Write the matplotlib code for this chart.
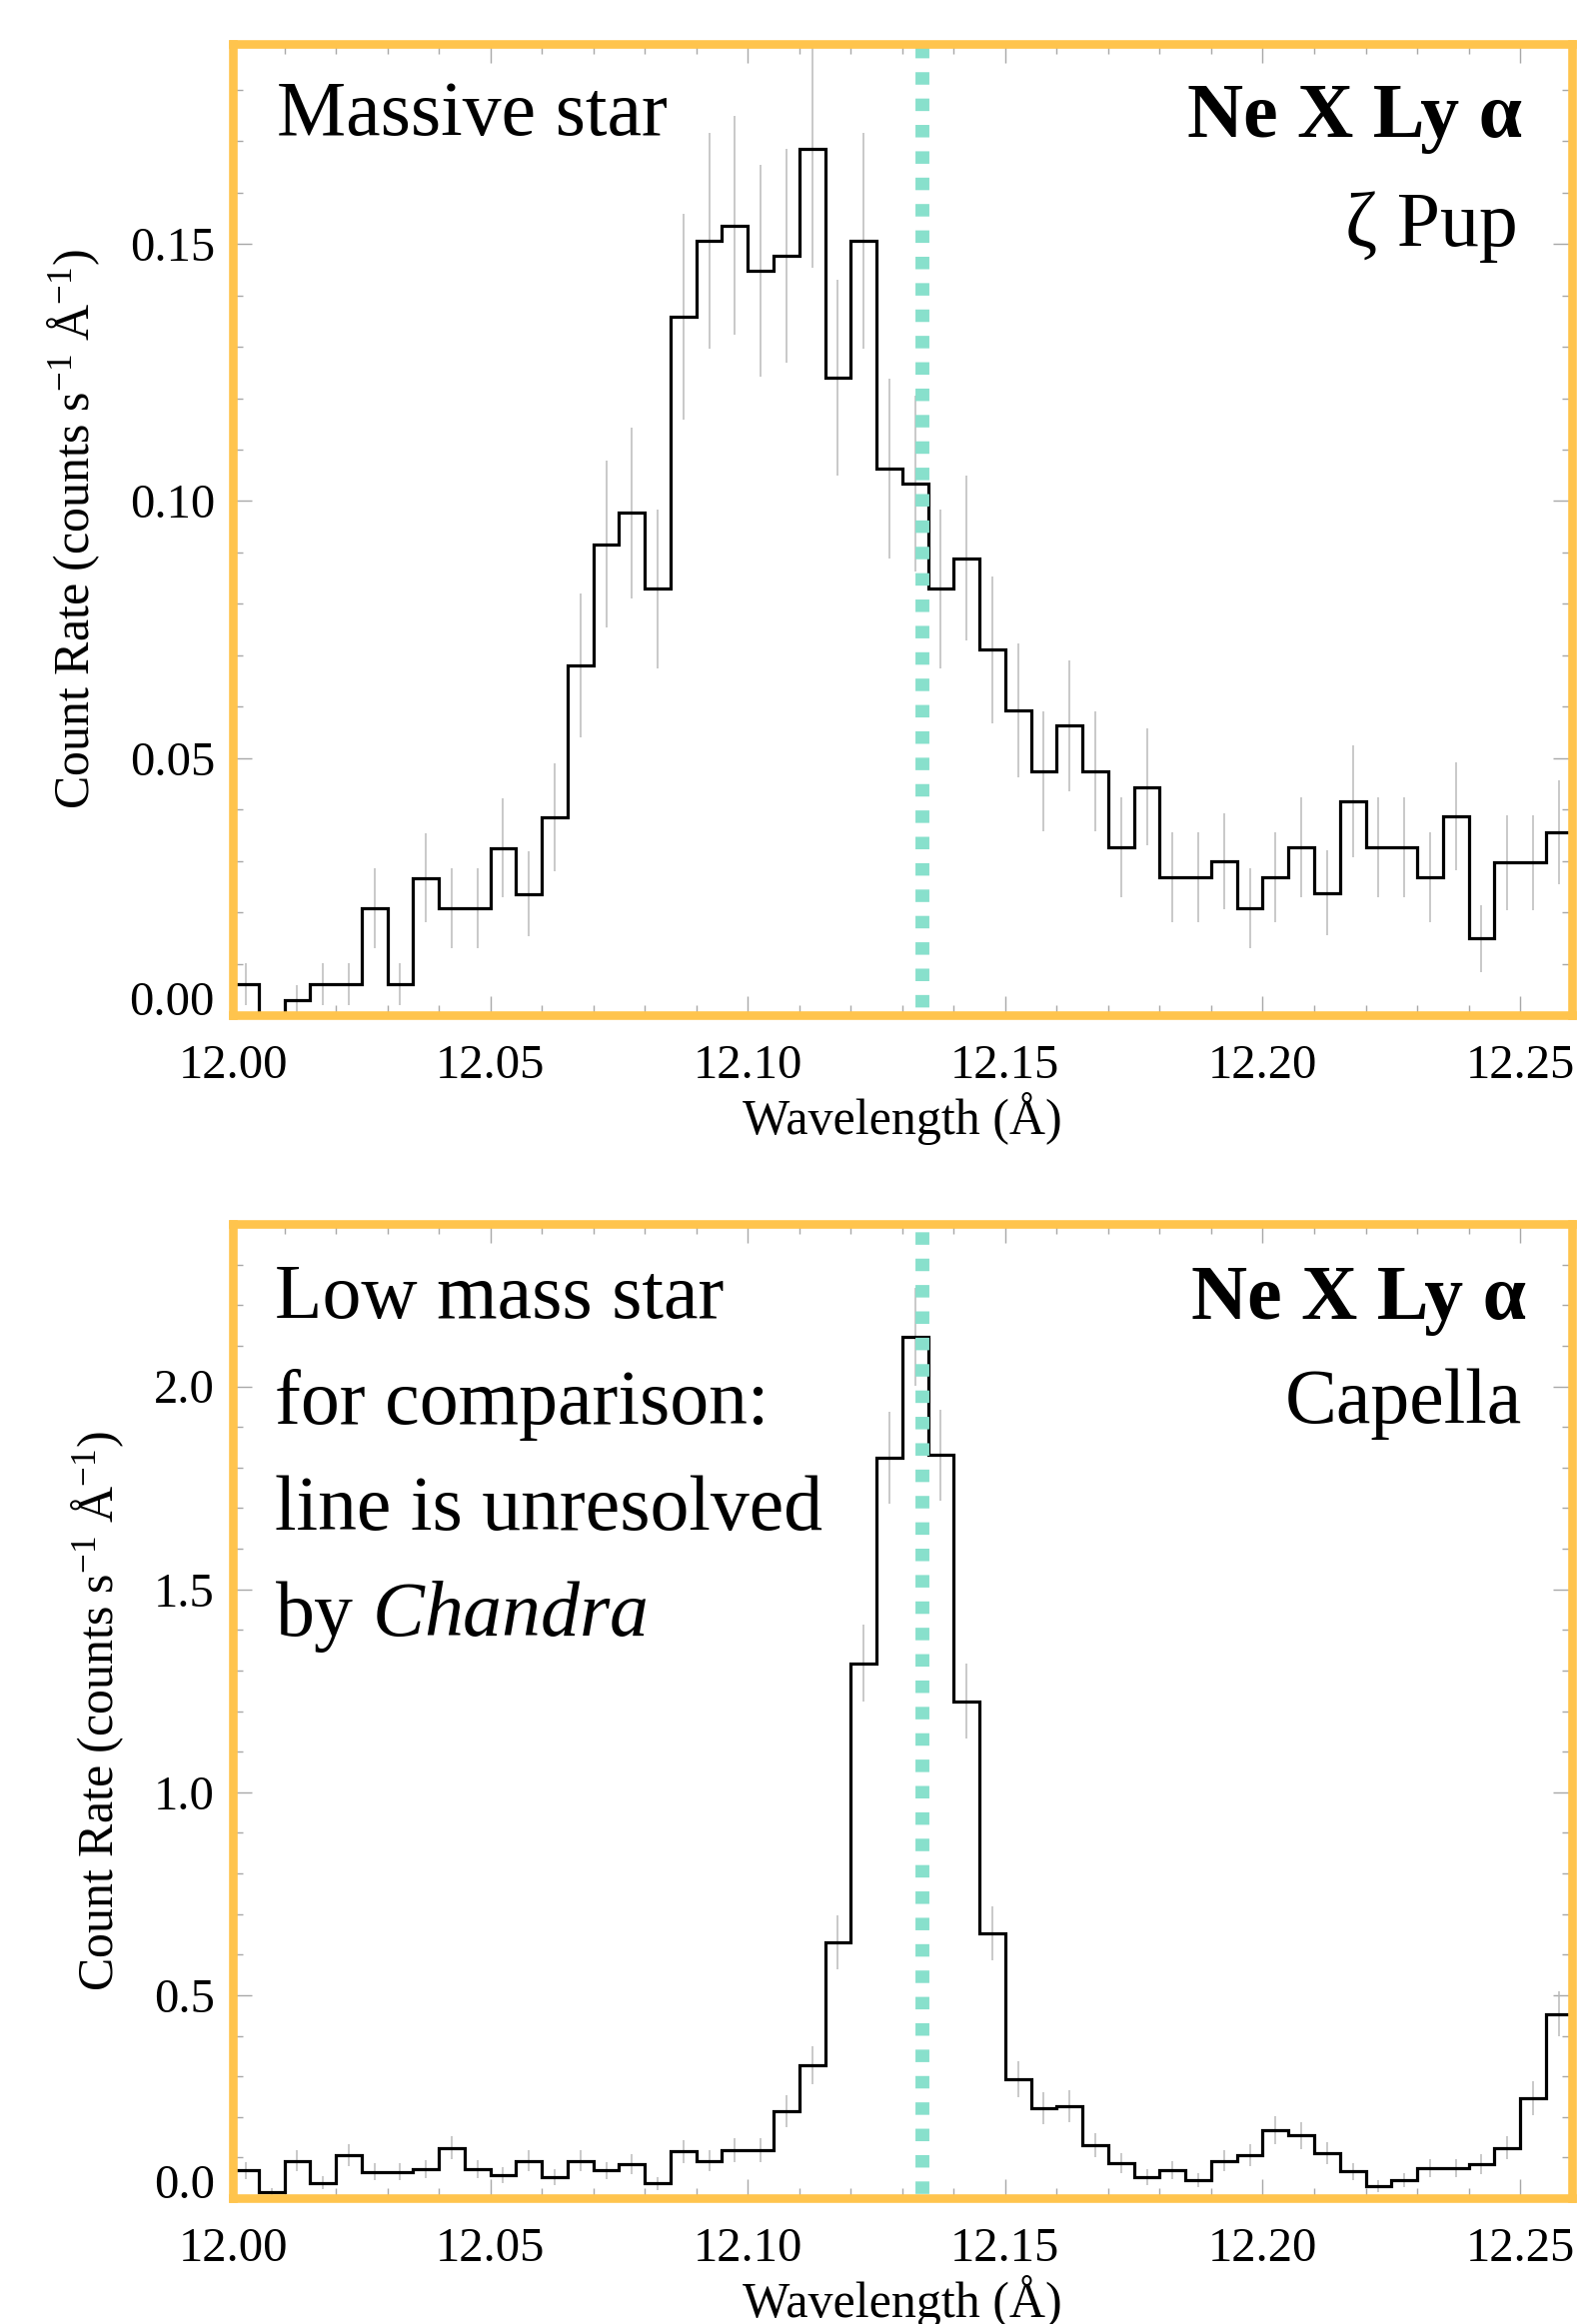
import numpy as np
import matplotlib
matplotlib.use("Agg")
import matplotlib.pyplot as plt
from matplotlib.ticker import MultipleLocator, FormatStrFormatter

plt.rcParams['font.family'] = ['Liberation Serif', 'DejaVu Serif']
plt.rcParams['mathtext.fontset'] = 'custom'
plt.rcParams['mathtext.rm'] = 'Liberation Serif'
plt.rcParams['mathtext.it'] = 'Liberation Serif:italic'
plt.rcParams['mathtext.bf'] = 'Liberation Serif:bold'

# ---------------- data ----------------
bin_start = 12.00
bin_width = 0.005
n_bins = 52
line_center = 12.134  # Ne X Ly alpha rest wavelength

zpup_rate = [0.006, 0.000, 0.003, 0.006, 0.006, 0.0208, 0.006, 0.0267, 0.0208, 0.0208,
             0.0325, 0.0236, 0.0385, 0.068, 0.0916, 0.0977, 0.0829, 0.1358, 0.1506, 0.1536,
             0.1447, 0.1477, 0.1684, 0.124, 0.1506, 0.1063, 0.1033, 0.0829, 0.0889, 0.0711,
             0.0593, 0.0474, 0.0563, 0.0474, 0.0326, 0.0444, 0.0268, 0.0268, 0.0299, 0.0208,
             0.0268, 0.0326, 0.0238, 0.0416, 0.0326, 0.0326, 0.0268, 0.0386, 0.0149, 0.0297,
             0.0297, 0.0356]
zpup_err = [0.0041, 0.0, 0.0029, 0.0041, 0.0041, 0.0077, 0.0041, 0.0087, 0.0077, 0.0077,
            0.0096, 0.0082, 0.0105, 0.0140, 0.0162, 0.0166, 0.0154, 0.0200, 0.0210, 0.0213,
            0.0206, 0.0207, 0.0230, 0.0191, 0.0210, 0.0175, 0.0171, 0.0154, 0.0160, 0.0143,
            0.0130, 0.0116, 0.0127, 0.0116, 0.0097, 0.0113, 0.0088, 0.0088, 0.0093, 0.0077,
            0.0088, 0.0097, 0.0083, 0.0109, 0.0097, 0.0097, 0.0088, 0.0105, 0.0065, 0.0092,
            0.0092, 0.0101]

capella_rate = [0.068, 0.014, 0.092, 0.038, 0.106, 0.065, 0.065, 0.072, 0.124, 0.072,
                0.057, 0.092, 0.052, 0.092, 0.068, 0.084, 0.036, 0.115, 0.092, 0.118,
                0.118, 0.214, 0.327, 0.630, 1.318, 1.824, 2.122, 1.831, 1.224, 0.652,
                0.293, 0.221, 0.226, 0.131, 0.086, 0.052, 0.070, 0.045, 0.092, 0.106,
                0.167, 0.154, 0.110, 0.066, 0.029, 0.045, 0.074, 0.074, 0.084, 0.124,
                0.246, 0.454]
capella_err = [0.0216, 0.0098, 0.0252, 0.0162, 0.0270, 0.0212, 0.0212, 0.0223, 0.0292, 0.0223,
               0.0198, 0.0252, 0.0189, 0.0252, 0.0216, 0.0241, 0.0157, 0.0281, 0.0252, 0.0285,
               0.0285, 0.0384, 0.0475, 0.0659, 0.0953, 0.1121, 0.1209, 0.1123, 0.0918, 0.0670,
               0.0449, 0.0390, 0.0395, 0.0300, 0.0243, 0.0189, 0.0220, 0.0176, 0.0252, 0.0270,
               0.0339, 0.0326, 0.0275, 0.0213, 0.0141, 0.0176, 0.0226, 0.0226, 0.0241, 0.0292,
               0.0412, 0.0559]

xticks = [12.00, 12.05, 12.10, 12.15, 12.20, 12.25]

edges = bin_start + bin_width * np.arange(n_bins + 1)
centers = 0.5 * (edges[:-1] + edges[1:])

# ---------------- style ----------------
ORANGE = '#FFC44D'
TEAL = '#88E0CC'
TICKC = '#a8a8a8'
ERRC = '#bababa'

W, H = 1583, 2326
fig = plt.figure(figsize=(W / 100, H / 100), dpi=100)

def px_axes(x0, x1, ytop, ybot):
    return fig.add_axes([x0 / W, 1 - ybot / H, (x1 - x0) / W, (ybot - ytop) / H])

ax1 = px_axes(233, 1572.6, 43.5, 1016)
ax2 = px_axes(233, 1572.6, 1225, 2200)

def style(ax, ylim, ymaj, ymin, yfmt, dash_offset):
    ax.set_xlim(12.00, 12.26)
    ax.set_ylim(*ylim)
    ax.set_xticks(xticks)
    ax.xaxis.set_minor_locator(MultipleLocator(0.01))
    ax.yaxis.set_major_locator(MultipleLocator(ymaj))
    ax.yaxis.set_minor_locator(MultipleLocator(ymin))
    ax.xaxis.set_major_formatter(FormatStrFormatter('%.2f'))
    ax.yaxis.set_major_formatter(FormatStrFormatter(yfmt))
    ax.tick_params(which='both', direction='in', top=True, right=True,
                   color=TICKC, width=1.0, labelsize=35)
    ax.tick_params(which='major', length=14)
    ax.tick_params(which='minor', length=7)
    ax.tick_params(axis='x', which='major', pad=21)
    ax.tick_params(axis='y', which='major', pad=13)
    for s in ax.spines.values():
        s.set_color(ORANGE)
        s.set_linewidth(6.2)
        s.set_zorder(5)
    ax.axvline(line_center, color=TEAL, lw=10, ls=(dash_offset, (0.9, 1.0)),
               dash_capstyle='butt', zorder=4)
    ax.set_xlabel('Wavelength (Å)', fontsize=36, labelpad=3)
    ax.set_ylabel(r'Count Rate (counts s$^{-1}$ Å$^{-1}$)', fontsize=36, labelpad=20)

def draw(ax, rate, err):
    ax.errorbar(centers, rate, yerr=err, fmt='none', ecolor=ERRC, elinewidth=1.1, zorder=2)
    ax.stairs(rate, edges, baseline=None, color='black', lw=2.3, zorder=3)

draw(ax1, zpup_rate, zpup_err)
draw(ax2, capella_rate, capella_err)
style(ax1, (0, 0.189), 0.05, 0.01, '%.2f', 1.35)
style(ax2, (0, 2.4), 0.5, 0.1, '%.1f', 1.6)

for ax in (ax1, ax2):
    ticks = ax.yaxis.get_major_ticks()
    locs = ax.yaxis.get_majorticklocs()
    for t, loc in zip(ticks, locs):
        if abs(loc) < 1e-9:
            t.label1.set_verticalalignment('baseline')

TXT = 56
# top panel annotations
ax1.text(0.0328, 0.906, 'Massive star', transform=ax1.transAxes, fontsize=TXT,
         ha='left', va='baseline')
ax1.text(0.963, 0.904, 'Ne X Ly α', transform=ax1.transAxes, fontsize=TXT,
         fontweight='bold', ha='right', va='baseline')
ax1.text(0.960, 0.792, 'ζ Pup', transform=ax1.transAxes, fontsize=TXT,
         ha='right', va='baseline')

# bottom panel annotations
left_lines = ['Low mass star', 'for comparison:', 'line is unresolved',
              r'by $\mathit{Chandra}$']
ys = [0.9036, 0.7949, 0.6862, 0.5774]
for s, y in zip(left_lines, ys):
    ax2.text(0.0317, y, s, transform=ax2.transAxes, fontsize=TXT,
             ha='left', va='baseline')
ax2.text(0.9657, 0.9026, 'Ne X Ly α', transform=ax2.transAxes, fontsize=TXT,
         fontweight='bold', ha='right', va='baseline')
ax2.text(0.963, 0.796, 'Capella', transform=ax2.transAxes, fontsize=TXT,
         ha='right', va='baseline')

fig.savefig('out.png', dpi=100)
